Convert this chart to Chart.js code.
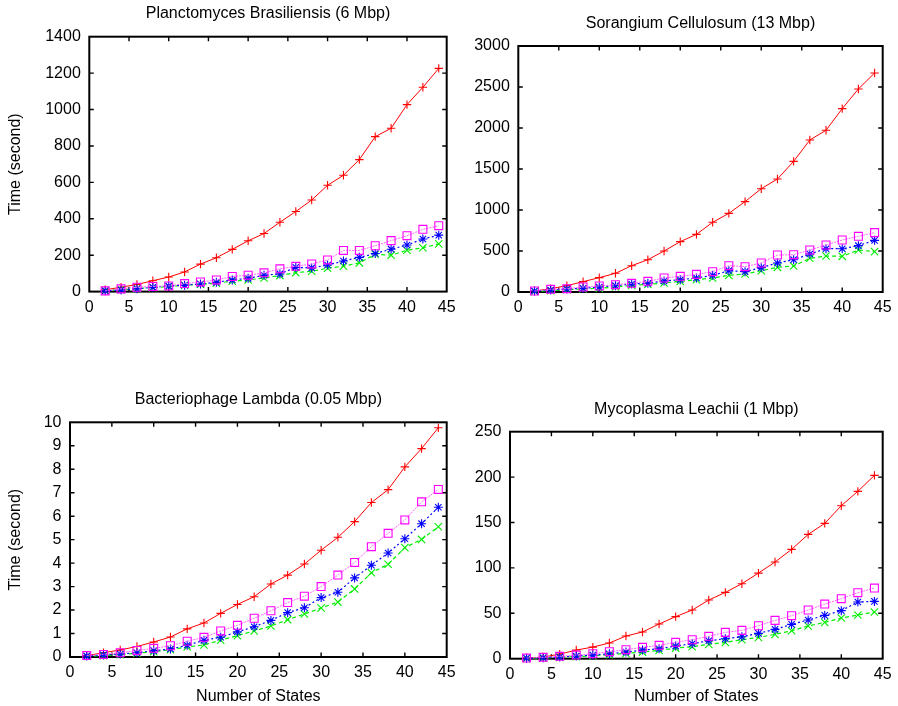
<!DOCTYPE html>
<html>
<head>
<meta charset="utf-8">
<script src="https://cdn.jsdelivr.net/npm/chart.js@4.4.0/dist/chart.umd.min.js"></script>
<style>
  html, body { margin: 0; padding: 0; background: #fff; }
  #wrap { position: relative; width: 898px; height: 706px; overflow: hidden; background: #fff; }
  #wrap canvas { position: absolute; }
</style>
</head>
<body>
<div id="wrap">
  <canvas id="planc"></canvas>
  <canvas id="soran"></canvas>
  <canvas id="phage"></canvas>
  <canvas id="myco"></canvas>
</div>
<script>
// Number of states (shared x values for every panel)
const states = [2, 4, 6, 8, 10, 12, 14, 16, 18, 20, 22, 24, 26, 28, 30, 32, 34, 36, 38, 40, 42, 44];
const xTicks = [0, 5, 10, 15, 20, 25, 30, 35, 40, 45];

// Planctomyces Brasiliensis (6 Mbp)
const plancPlus   = [10, 24, 39, 60, 80, 108, 151, 186, 232, 279, 319, 381, 440, 503, 584, 639, 725, 851, 897, 1027, 1122, 1226];
const plancSquare = [4, 15, 24, 28, 31, 44, 53, 64, 83, 90, 103, 125, 139, 152, 174, 226, 226, 252, 280, 307, 342, 362];
const plancStar   = [4, 9, 15, 24, 31, 35, 42, 51, 64, 73, 90, 97, 133, 130, 146, 168, 188, 209, 233, 256, 289, 310];
const plancCross  = [5, 11, 16, 22, 28, 35, 40, 46, 57, 64, 75, 88, 104, 112, 128, 140, 158, 205, 200, 227, 241, 262];
const plancYTicks = [0, 200, 400, 600, 800, 1000, 1200, 1400];

// Sorangium Cellulosum (13 Mbp)
const soranPlus   = [12, 41, 77, 126, 175, 228, 321, 394, 500, 614, 703, 850, 959, 1102, 1260, 1378, 1593, 1854, 1972, 2236, 2476, 2671];
const soranSquare = [12, 33, 41, 61, 73, 89, 106, 130, 171, 191, 215, 248, 321, 309, 354, 451, 455, 512, 573, 634, 679, 724];
const soranStar   = [12, 24, 37, 45, 61, 77, 98, 106, 134, 150, 171, 203, 260, 248, 297, 354, 394, 463, 528, 528, 565, 630];
const soranCross  = [8, 16, 28, 37, 45, 61, 81, 93, 110, 130, 150, 171, 203, 220, 260, 301, 317, 411, 439, 435, 512, 492];
const soranYTicks = [0, 500, 1000, 1500, 2000, 2500, 3000];

// Bacteriophage Lambda (0.05 Mbp)
const phagePlus   = [0.06, 0.18, 0.3, 0.45, 0.64, 0.85, 1.2, 1.45, 1.86, 2.24, 2.57, 3.11, 3.49, 3.96, 4.55, 5.1, 5.77, 6.58, 7.13, 8.1, 8.88, 9.77];
const phageSquare = [0.06, 0.11, 0.18, 0.28, 0.37, 0.48, 0.67, 0.84, 1.11, 1.35, 1.65, 1.97, 2.32, 2.59, 3.0, 3.49, 4.03, 4.7, 5.27, 5.84, 6.61, 7.14];
const phageStar   = [0.04, 0.09, 0.13, 0.18, 0.27, 0.34, 0.5, 0.71, 0.84, 1.07, 1.29, 1.56, 1.89, 2.1, 2.53, 2.76, 3.37, 3.91, 4.43, 5.04, 5.68, 6.38];
const phageCross  = [0.03, 0.06, 0.1, 0.16, 0.23, 0.31, 0.43, 0.51, 0.72, 0.91, 1.11, 1.32, 1.59, 1.83, 2.09, 2.34, 2.9, 3.59, 3.95, 4.66, 5.01, 5.55];
const phageYTicks = [0, 1, 2, 3, 4, 5, 6, 7, 8, 9, 10];

// Mycoplasma Leachii (1 Mbp)
const mycoPlus   = [0.7, 1.8, 5, 9.5, 12.8, 17.3, 25, 29.4, 38.2, 46.3, 53.6, 64.6, 73, 82.6, 94.3, 106.5, 120.4, 136.9, 149, 168.5, 184.3, 201.9];
const mycoSquare = [0.7, 1.5, 2.6, 4, 5.5, 7.7, 9.9, 12.5, 14.7, 18, 20.9, 24.6, 29, 31.2, 36.3, 42.2, 47.4, 53.6, 60.2, 66.1, 72.7, 77.8];
const mycoStar   = [0.5, 1.1, 1.8, 2.9, 4, 5.5, 7.3, 9.5, 11, 13.9, 16.5, 19.8, 22, 24.2, 27.9, 32.3, 37.8, 42.6, 47.7, 52.9, 62.4, 63.1];
const mycoCross  = [0.4, 0.7, 1.5, 2.2, 3.3, 4.4, 5.9, 7.3, 9.2, 11.7, 13.2, 15.8, 18, 20.9, 23.5, 26.8, 30.8, 36, 40, 44.8, 48.1, 51.4];
const mycoYTicks = [0, 50, 100, 150, 200, 250];

const FONT = "'Liberation Sans', Arial, Helvetica, sans-serif";
const FS = 16;
const LH = FS * 1.2;

// Frame around the plot area plus inward tick marks on all four sides
const frameTicks = {
  id: 'frameTicks',
  beforeDatasetsDraw(chart) {
    const { ctx, chartArea: a, scales: { x, y } } = chart;
    const L = 4.5;
    ctx.save();
    ctx.strokeStyle = '#000';
    ctx.lineWidth = 1.4;
    ctx.beginPath();
    x.ticks.forEach(t => {
      const px = x.getPixelForValue(t.value);
      if (px <= a.left + 1 || px >= a.right - 1) return;
      ctx.moveTo(px, a.bottom); ctx.lineTo(px, a.bottom - L);
      ctx.moveTo(px, a.top); ctx.lineTo(px, a.top + L);
    });
    y.ticks.forEach(t => {
      const py = y.getPixelForValue(t.value);
      if (py <= a.top + 1 || py >= a.bottom - 1) return;
      ctx.moveTo(a.left, py); ctx.lineTo(a.left + L, py);
      ctx.moveTo(a.right, py); ctx.lineTo(a.right - L, py);
    });
    ctx.stroke();
    ctx.lineWidth = 2;
    ctx.strokeRect(a.left, a.top, a.right - a.left, a.bottom - a.top);
    ctx.restore();
  }
};

function series(values) {
  return states.map((s, i) => ({ x: s, y: values[i] }));
}

function datasets(plus, square, star, cross) {
  const common = { borderWidth: 1, pointBorderWidth: 1.1, pointHoverRadius: 0, tension: 0, clip: false, fill: false,
                   pointBackgroundColor: 'rgba(0,0,0,0)' };
  return [
    Object.assign({}, common, { label: 'square', data: series(square), borderColor: '#ff66ff', pointBorderColor: '#ff00ff',
      borderDash: [2, 1], pointStyle: 'rect', pointRadius: 5.6 }),
    Object.assign({}, common, { label: 'star', data: series(star), borderColor: '#0000ff', pointBorderColor: '#0000ff',
      borderDash: [2, 2.5], borderWidth: 1.2, pointStyle: 'star', pointRadius: 4.5 }),
    Object.assign({}, common, { label: 'cross', data: series(cross), borderColor: '#00ee00', pointBorderColor: '#00ee00',
      borderDash: [4, 3], borderWidth: 1.2, pointStyle: 'crossRot', pointRadius: 5.2 }),
    Object.assign({}, common, { label: 'plus', data: series(plus), borderColor: '#ff0000', pointBorderColor: '#ff0000',
      pointStyle: 'cross', pointRadius: 4.2 })
  ];
}

function panel(p) {
  const cv = document.getElementById(p.id);
  cv.width = p.box.w; cv.height = p.box.h;
  cv.style.left = p.box.x + 'px'; cv.style.top = p.box.y + 'px';
  const yw = p.area.l - p.box.x;
  const xh = p.box.y + p.box.h - p.area.b;
  const yTicks = p.yTicks;
  new Chart(cv, {
    type: 'line',
    data: { datasets: datasets(p.plus, p.square, p.star, p.cross) },
    options: {
      responsive: false,
      animation: false,
      devicePixelRatio: 1,
      events: [],
      layout: { padding: { left: 0, top: 0, bottom: 0, right: p.box.x + p.box.w - p.area.r } },
      plugins: {
        legend: { display: false },
        tooltip: { enabled: false },
        title: {
          display: true, text: p.title, fullSize: false, color: '#000',
          font: { family: FONT, size: FS, weight: 'normal', lineHeight: 1.2 },
          padding: { top: p.titleY - p.box.y - LH / 2, bottom: p.area.t - p.titleY - LH / 2 }
        }
      },
      scales: {
        x: {
          type: 'linear', min: xTicks[0], max: xTicks[xTicks.length - 1],
          grid: { display: false, drawTicks: false }, border: { display: false },
          ticks: { stepSize: xTicks[1] - xTicks[0], color: '#000', padding: 6.4, maxRotation: 0, autoSkip: false,
                   font: { family: FONT, size: FS }, callback: v => String(v) },
          title: p.xTitle ? { display: true, text: p.xTitle, color: '#000', font: { family: FONT, size: FS },
                   padding: { top: 0, bottom: p.box.y + p.box.h - p.xTitleY - LH / 2 } } : { display: false },
          afterFit(s) { s.height = xh; }
        },
        y: {
          type: 'linear', min: yTicks[0], max: yTicks[yTicks.length - 1],
          grid: { display: false, drawTicks: false }, border: { display: false },
          ticks: { stepSize: yTicks[1] - yTicks[0], color: '#000', padding: 8.5, autoSkip: false,
                   font: { family: FONT, size: FS }, callback: v => String(v) },
          title: p.yTitle ? { display: true, text: p.yTitle, color: '#000', font: { family: FONT, size: FS },
                   padding: { top: p.yTitleX - p.box.x - LH / 2, bottom: 0 } } : { display: false },
          afterFit(s) { s.width = yw; }
        }
      }
    },
    plugins: [frameTicks]
  });
}

panel({ id: 'planc', title: 'Planctomyces Brasiliensis (6 Mbp)', titleY: 13.5,
  box: { x: 0, y: 0, w: 462, h: 330 }, area: { l: 89.3, t: 36.7, r: 451.3, b: 291.6 },
  yTitle: 'Time (second)', yTitleX: 15.5,
  plus: plancPlus, square: plancSquare, star: plancStar, cross: plancCross, yTicks: plancYTicks });

panel({ id: 'soran', title: 'Sorangium Cellulosum (13 Mbp)', titleY: 23.5,
  box: { x: 462, y: 0, w: 436, h: 330 }, area: { l: 518.3, t: 46, r: 883.3, b: 292 },
  plus: soranPlus, square: soranSquare, star: soranStar, cross: soranCross, yTicks: soranYTicks });

panel({ id: 'phage', title: 'Bacteriophage Lambda (0.05 Mbp)', titleY: 399.5,
  box: { x: 0, y: 360, w: 462, h: 346 }, area: { l: 70, t: 422.3, r: 452, b: 657 },
  yTitle: 'Time (second)', yTitleX: 15.5, xTitle: 'Number of States', xTitleY: 696.5,
  plus: phagePlus, square: phageSquare, star: phageStar, cross: phageCross, yTicks: phageYTicks });

panel({ id: 'myco', title: 'Mycoplasma Leachii (1 Mbp)', titleY: 409.5,
  box: { x: 462, y: 360, w: 436, h: 346 }, area: { l: 510, t: 431.7, r: 883.3, b: 658.7 },
  xTitle: 'Number of States', xTitleY: 696.5,
  plus: mycoPlus, square: mycoSquare, star: mycoStar, cross: mycoCross, yTicks: mycoYTicks });
</script>
</body>
</html>
